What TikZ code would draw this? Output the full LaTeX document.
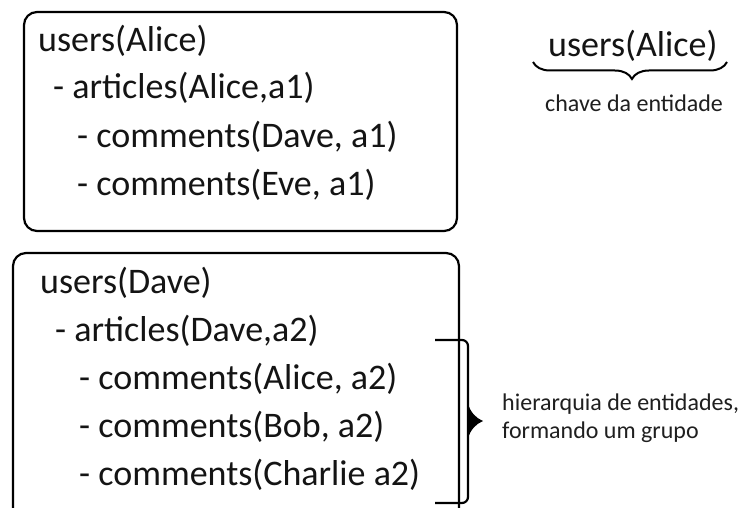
\documentclass[tikz,border=0pt]{standalone}
\usepackage{fontspec}
\setmainfont{Carlito}
\usetikzlibrary{decorations.pathreplacing}
\begin{document}
\begin{tikzpicture}[x=1pt,y=-1pt,
  groupbox/.style={draw=black,line width=2.2pt,rounded corners=13pt},
  keyline/.style={anchor=base west,inner sep=0pt,font=\fontsize{36}{40}\selectfont,text=black!92},
  note/.style={anchor=base west,inner sep=0pt,font=\fontsize{24}{28}\selectfont,text=black!88},
  bracketline/.style={draw=black,line width=2.2pt,rounded corners=6pt}]
\useasboundingbox (0,0) rectangle (741,508);
\fill[white] (0,0) rectangle (741,508);

% first entity group
\draw[groupbox] (24,12) rectangle (457,231);
\node[keyline] (u1) at (38,52) {users(Alice)};
\node[keyline] (a1) at (53,99) {- articles(Alice,a1)};
\node[keyline] (c11) at (77,147) {- comments(Dave, a1)};
\node[keyline] (c12) at (77,195) {- comments(Eve, a1)};

% second entity group (its bottom runs past the lower edge)
\begin{scope}
\clip (0,0) rectangle (741,508);
\draw[groupbox] (13,253) rectangle (459,540);
\end{scope}
\node[keyline] (u2) at (40,293) {users(Dave)};
\node[keyline] (a2) at (55,341) {- articles(Dave,a2)};
\node[keyline] (c21) at (79,389) {- comments(Alice, a2)};
\node[keyline] (c22) at (79,437) {- comments(Bob, a2)};
\node[keyline] (c23) at (79,485) {- comments(Charlie a2)};

% entity key example
\node[keyline] (key) at (548,57) {users(Alice)};
\coordinate (kl) at (533,62);
\coordinate (kr) at (727,62);
\draw[line width=2pt,decorate,decoration={brace,mirror,amplitude=17pt,aspect=0.51}] (kl) -- (kr);
\node[note] (keylbl) at (545,112) {chave da entidade};

% bracket marking the hierarchy
\coordinate (bt) at (435,340);
\coordinate (bb) at (435,503);
\draw[bracketline] (bt) -- (468,340) -- (468,503) -- (bb);
\fill[black] (468,404) .. controls (471,413) and (476,418) .. (483,421)
  .. controls (476,424) and (471,429) .. (468,438) -- cycle;
\node[note] (grp1) at (502,410) {hierarquia de entidades,};
\node[note] (grp2) at (502,438) {formando um grupo};
\end{tikzpicture}
\end{document}
